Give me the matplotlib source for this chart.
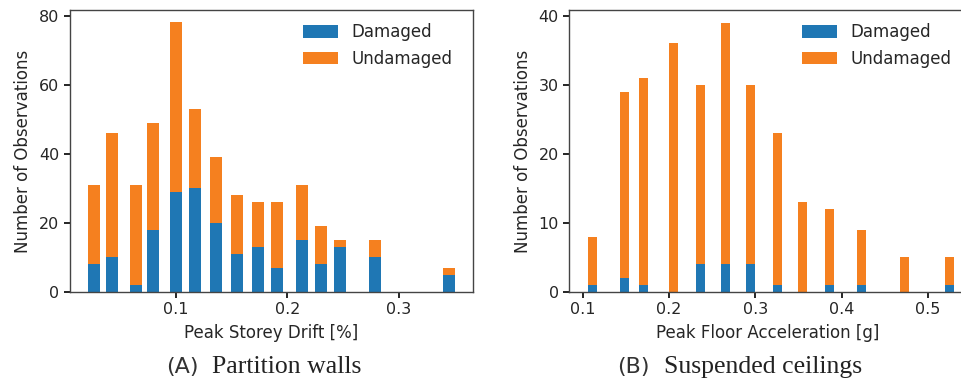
import numpy as np
import matplotlib
matplotlib.use('Agg')
import matplotlib.pyplot as plt

# (A) partition walls: bin centres of peak storey drift [%] and counts
drift = [0.0269, 0.0430, 0.0645, 0.0797, 0.1003, 0.1173, 0.1361, 0.1549,
         0.1737, 0.1907, 0.2131, 0.2301, 0.2472, 0.2785, 0.3448]
walls_damaged = [8, 10, 2, 18, 29, 30, 20, 11, 13, 7, 15, 8, 13, 10, 5]
walls_total = [31, 46, 31, 49, 78, 53, 39, 28, 26, 26, 31, 19, 15, 15, 7]

# (B) suspended ceilings: bin centres of peak floor acceleration [g] and counts
pfa = [0.1110, 0.1481, 0.1700, 0.2052, 0.2365, 0.2655, 0.2945, 0.3257,
       0.3547, 0.3860, 0.4230, 0.4729, 0.5251]
ceil_damaged = [1, 2, 1, 0, 4, 4, 4, 1, 0, 1, 1, 0, 1]
ceil_total = [8, 29, 31, 36, 30, 39, 30, 23, 13, 12, 9, 5, 5]

walls_undamaged = np.array(walls_total) - np.array(walls_damaged)
ceil_undamaged = np.array(ceil_total) - np.array(ceil_damaged)

blue = '#1f77b4'
orange = '#f5801f'
txt = '#262626'

plt.rcParams['font.family'] = ['DejaVu Sans']
plt.rcParams['text.color'] = txt
plt.rcParams['axes.labelcolor'] = txt
plt.rcParams['xtick.color'] = 'k'
plt.rcParams['ytick.color'] = 'k'
plt.rcParams['xtick.labelcolor'] = txt
plt.rcParams['ytick.labelcolor'] = txt

fig = plt.figure(figsize=(9.61, 3.83), dpi=100)
W, H = 961.0, 383.0

def make_axes(left, right, top, bottom):
    return fig.add_axes([left / W, 1 - bottom / H, (right - left) / W, (bottom - top) / H])

ax1 = make_axes(70, 472.7, 10, 292)
ax2 = make_axes(569.3, 967, 10, 292)

def style(ax):
    for s in ax.spines.values():
        s.set_color('#444444')
        s.set_linewidth(1.0)
    ax.tick_params(axis='both', direction='out', length=4.5, width=1.2,
                   labelsize=11.5, pad=3)
    ax.tick_params(top=False, right=False)

def add_legend(ax, x_px, ax_left, ax_width):
    # place the legend box so that the handles start at x_px
    ax.legend(loc='upper left', bbox_to_anchor=((x_px - 13 - ax_left) / ax_width, 1.0),
              frameon=False, fontsize=12,
              handlelength=2.1, handleheight=0.8, borderaxespad=0.4)

# left panel
ax1.bar(drift, walls_damaged, width=0.0107, color=blue, label='Damaged')
ax1.bar(drift, walls_undamaged, width=0.0107, bottom=walls_damaged,
        color=orange, label='Undamaged')
ax1.set_xlim(0.0054, 0.366)
ax1.set_ylim(0, 81.6)
ax1.set_xticks([0.1, 0.2, 0.3])
ax1.set_xticklabels(['0.1', '0.2', '0.3'])
ax1.set_yticks([0, 20, 40, 60, 80])
ax1.set_xlabel('Peak Storey Drift [%]', fontsize=12, labelpad=5)
ax1.set_ylabel('Number of Observations', fontsize=12, labelpad=5)
style(ax1)
add_legend(ax1, 302.7, 70, 402.7)

# right panel
ax2.bar(pfa, ceil_damaged, width=0.0104, color=blue, label='Damaged')
ax2.bar(pfa, ceil_undamaged, width=0.0104, bottom=ceil_damaged,
        color=orange, label='Undamaged')
ax2.set_xlim(0.0842, 0.5453)
ax2.set_ylim(0, 40.82)
ax2.set_xticks([0.1, 0.2, 0.3, 0.4, 0.5])
ax2.set_xticklabels(['0.1', '0.2', '0.3', '0.4', '0.5'])
ax2.set_yticks([0, 10, 20, 30, 40])
ax2.set_xlabel('Peak Floor Acceleration [g]', fontsize=12, labelpad=5)
ax2.set_ylabel('Number of Observations', fontsize=12, labelpad=5)
style(ax2)
add_legend(ax2, 802, 569.3, 397.7)

# sub-captions
base = (H - 372.7) / H
fig.text(165.7 / W, base, '(A)', fontsize=16, family='DejaVu Sans',
         color='#333333', va='baseline')
fig.text(212.3 / W, base, 'Partition walls', fontsize=18.5,
         family='Liberation Serif', color='#222222', va='baseline')
fig.text(616.7 / W, base, '(B)', fontsize=16, family='DejaVu Sans',
         color='#333333', va='baseline')
fig.text(664.3 / W, base, 'Suspended ceilings', fontsize=18.5,
         family='Liberation Serif', color='#222222', va='baseline')

fig.savefig('out.png', dpi=100)
